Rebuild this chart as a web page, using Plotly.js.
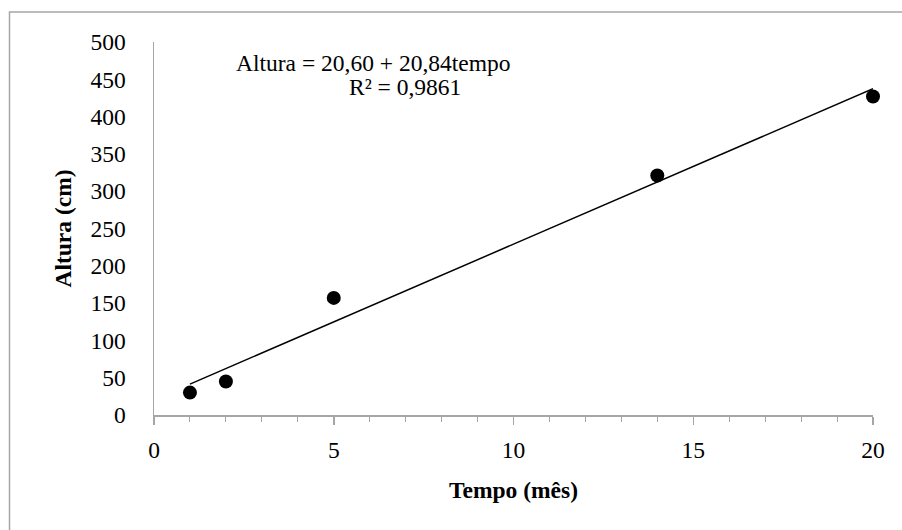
<!DOCTYPE html>
<html>
<head>
<meta charset="utf-8">
<script src="https://cdn.plot.ly/plotly-3.0.1.min.js"></script>
<style>html,body{margin:0;padding:0;background:#fff;}#chart{width:902px;height:530px;}</style>
</head>
<body>
<div id="chart"></div>
<script>
// Data
const tempo = [1, 2, 5, 14, 20];
const altura = [30, 45, 157, 321, 427];
// Trendline coefficients (intercept, slope) as printed on the chart
const intercept = 20.60;
const slope = 20.84;
const equationText = "Altura = 20,60 + 20,84tempo";
const r2Text = "R² = 0,9861";
const xTicks = [0, 5, 10, 15, 20];
const yTicks = [0, 50, 100, 150, 200, 250, 300, 350, 400, 450, 500];

const xMin = Math.min(...tempo), xMax = Math.max(...tempo);
const trendX = [xMin, xMax];
const trendY = trendX.map(x => intercept + slope * x);

const font = "'Liberation Serif', 'Times New Roman', serif";
const fs = 23.5;

const traces = [
  {x: trendX, y: trendY, mode: "lines", type: "scatter",
   line: {color: "#000", width: 1.5}, hoverinfo: "skip", showlegend: false, cliponaxis: false},
  {x: tempo, y: altura, mode: "markers", type: "scatter",
   marker: {color: "#000", size: 14}, showlegend: false, cliponaxis: false}
];

const layout = {
  width: 902, height: 530,
  paper_bgcolor: "#fff", plot_bgcolor: "#fff",
  margin: {l: 154, r: 29, t: 42, b: 115},
  font: {family: font, color: "#000", size: fs},
  xaxis: {
    range: [0, 20], tickvals: xTicks, ticktext: xTicks.map(String),
    showgrid: false, zeroline: false, showline: true, linecolor: "#a6a6a6", linewidth: 1.5,
    ticks: "outside", ticklen: 8, tickwidth: 1.5, tickcolor: "#a6a6a6",
    minor: {dtick: 1, ticks: "outside", ticklen: 5, tickwidth: 1, tickcolor: "#a6a6a6"},
    ticklabelstandoff: 5,
    tickfont: {family: font, size: fs, color: "#000"},
    title: {text: "<b>Tempo (mês)</b>", font: {family: font, size: fs, color: "#000"}, standoff: 20}
  },
  yaxis: {
    range: [0, 500], tickvals: yTicks, ticktext: yTicks.map(String),
    showgrid: false, zeroline: false, showline: true, linecolor: "#a6a6a6", linewidth: 1.5,
    ticks: "", ticklabelstandoff: 22,
    tickfont: {family: font, size: fs, color: "#000"},
    title: {text: "<b>Altura (cm)</b>", font: {family: font, size: fs, color: "#000"}, standoff: 12}
  },
  annotations: [
    {text: equationText, xref: "paper", yref: "paper", x: (373 - 154) / 719, y: (415 - 63) / 373,
     xanchor: "center", yanchor: "middle", showarrow: false, font: {family: font, size: fs, color: "#000"}},
    {text: r2Text, xref: "paper", yref: "paper", x: (405 - 154) / 719, y: (415 - 87) / 373,
     xanchor: "center", yanchor: "middle", showarrow: false, font: {family: font, size: fs, color: "#000"}}
  ],
  shapes: [
    {type: "rect", xref: "paper", yref: "paper",
     x0: (9.5 - 154) / 719, x1: (920 - 154) / 719, y0: (415 - 560) / 373, y1: (415 - 12) / 373,
     line: {color: "#a6a6a6", width: 1.5}, fillcolor: "rgba(0,0,0,0)", layer: "below"}
  ]
};

Plotly.newPlot("chart", traces, layout, {displayModeBar: false, staticPlot: true});
</script>
</body>
</html>
